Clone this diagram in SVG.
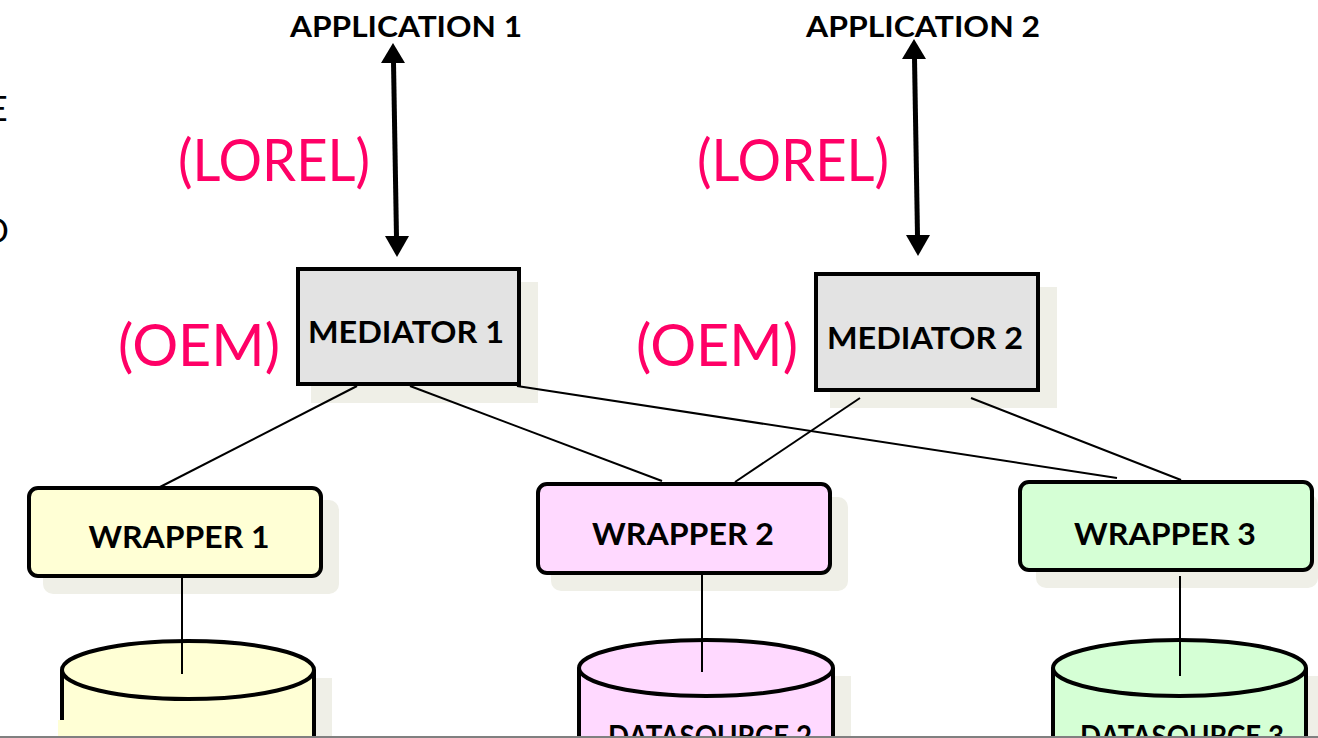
<svg xmlns="http://www.w3.org/2000/svg" width="1318" height="738" viewBox="0 0 1318 738">
<style>
.bold{font-family:Lato,"Liberation Sans",sans-serif;font-weight:bold;fill:#000;text-anchor:middle}
.pink{font-family:Lato,"Liberation Sans",sans-serif;fill:#FF0066;text-anchor:middle;font-size:58px}
.edge{font-family:Lato,"Liberation Sans",sans-serif;fill:#000;font-size:34px}
.shadow{fill:#EFEFE7}
.med{fill:#E3E3E3;stroke:#000;stroke-width:4}
.wr{stroke:#000;stroke-width:4}
.cyl{stroke:#000;stroke-width:4}
.conn{stroke:#000;stroke-width:2;fill:none}
.arrow{stroke:#000;stroke-width:5;fill:none}
</style>
<rect width="1318" height="738" fill="#fff"/>

<text class="edge" x="-12" y="121">E</text>
<text class="edge" x="-17" y="243">D</text>

<g id="app1"><text class="bold" x="406" y="37" font-size="29" textLength="232" lengthAdjust="spacingAndGlyphs">APPLICATION 1</text></g>
<g id="app2"><text class="bold" x="923" y="37" font-size="29" textLength="234" lengthAdjust="spacingAndGlyphs">APPLICATION 2</text></g>

<g id="lorel1"><text class="pink" x="274" y="181" textLength="192" lengthAdjust="spacingAndGlyphs">(LOREL)</text></g>
<g id="lorel2"><text class="pink" x="793" y="181" textLength="192" lengthAdjust="spacingAndGlyphs">(LOREL)</text></g>
<g id="oem1"><text class="pink" x="199" y="366" textLength="162" lengthAdjust="spacingAndGlyphs">(OEM)</text></g>
<g id="oem2"><text class="pink" x="717" y="366" textLength="162" lengthAdjust="spacingAndGlyphs">(OEM)</text></g>

<g id="mediator1">
<rect class="shadow" x="311" y="282" width="227" height="121"/>
<rect class="med" x="298" y="269" width="221" height="115"/>
<text class="bold" x="406" y="343" font-size="30" textLength="196" lengthAdjust="spacingAndGlyphs">MEDIATOR 1</text>
</g>
<g id="mediator2">
<rect class="shadow" x="830" y="287" width="227" height="121"/>
<rect class="med" x="816" y="274" width="222" height="116"/>
<text class="bold" x="925" y="349" font-size="30" textLength="196" lengthAdjust="spacingAndGlyphs">MEDIATOR 2</text>
</g>

<g id="wrapper1">
<rect class="shadow" x="43" y="500" width="296" height="94" rx="10"/>
<rect class="wr" x="29" y="488" width="292" height="88" rx="9" fill="#FFFFD5"/>
<text class="bold" x="179" y="548" font-size="30" textLength="181" lengthAdjust="spacingAndGlyphs">WRAPPER 1</text>
</g>
<g id="wrapper2">
<rect class="shadow" x="551" y="497" width="297" height="94" rx="10"/>
<rect class="wr" x="538" y="484" width="292" height="89" rx="9" fill="#FFD9FF"/>
<text class="bold" x="683" y="545" font-size="30" textLength="182" lengthAdjust="spacingAndGlyphs">WRAPPER 2</text>
</g>
<g id="wrapper3">
<rect class="shadow" x="1036" y="494" width="282" height="94" rx="10"/>
<rect class="wr" x="1020" y="482" width="292" height="88" rx="9" fill="#D5FFD5"/>
<text class="bold" x="1165" y="545" font-size="30" textLength="182" lengthAdjust="spacingAndGlyphs">WRAPPER 3</text>
</g>

<g id="datasource1">
<rect class="shadow" x="316" y="678" width="16" height="60"/>
<rect x="58" y="720" width="258" height="18" fill="#FFFFD5"/>
<path d="M62,670 L62,738 L314,738 L314,670 z" fill="#FFFFD5"/>
<path class="cyl" d="M62,670 L62,720 M314,670 L314,738" fill="none"/>
<ellipse class="cyl" cx="188" cy="670" rx="126" ry="29" fill="#FFFFD5"/>
</g>
<g id="datasource2">
<rect class="shadow" x="834" y="676" width="17" height="62"/>
<path d="M579,668 L579,738 L833,738 L833,668 z" fill="#FFD9FF"/>
<path class="cyl" d="M579,668 L579,738 M833,668 L833,738" fill="none"/>
<ellipse class="cyl" cx="706" cy="668" rx="127" ry="28" fill="#FFD9FF"/>
<text class="bold" x="710" y="747" font-size="30" textLength="204" lengthAdjust="spacingAndGlyphs">DATASOURCE 2</text>
</g>
<g id="datasource3">
<rect class="shadow" x="1307" y="676" width="11" height="62"/>
<path d="M1053,668 L1053,738 L1306,738 L1306,668 z" fill="#D5FFD5"/>
<path class="cyl" d="M1053,668 L1053,738 M1306,668 L1306,738" fill="none"/>
<ellipse class="cyl" cx="1179.5" cy="668" rx="126.5" ry="28" fill="#D5FFD5"/>
<text class="bold" x="1182" y="747" font-size="30" textLength="204" lengthAdjust="spacingAndGlyphs">DATASOURCE 3</text>
</g>

<g id="connectors">
<line class="arrow" x1="393.5" y1="62" x2="396.5" y2="238"/>
<path d="M393,43 L381,63 L405,63 z"/>
<path d="M397,257 L385,236 L409,236 z"/>
<line class="arrow" x1="914.5" y1="58" x2="917.5" y2="236"/>
<path d="M914,39 L902,59 L926,59 z"/>
<path d="M918,256 L906,235 L930,235 z"/>
<line class="conn" x1="357" y1="386" x2="160" y2="487"/>
<line class="conn" x1="410" y1="386" x2="662" y2="481"/>
<line class="conn" x1="517" y1="386" x2="1117" y2="478"/>
<line class="conn" x1="860" y1="398" x2="735" y2="482"/>
<line class="conn" x1="971" y1="398" x2="1181" y2="480"/>
<line class="conn" x1="182" y1="578" x2="182" y2="674"/>
<line class="conn" x1="702" y1="575" x2="702" y2="672"/>
<line class="conn" x1="1180" y1="576" x2="1180" y2="676"/>
</g>

<line x1="0" y1="737" x2="1318" y2="737" stroke="#808080" stroke-width="2"/>
</svg>
